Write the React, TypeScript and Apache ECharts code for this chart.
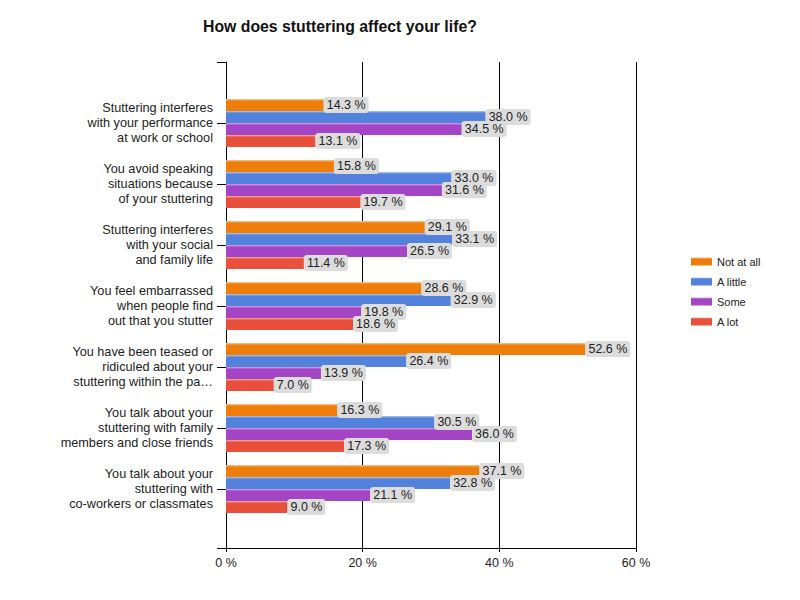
import React, { useEffect, useRef } from "react";
import * as echarts from "echarts";

const categories = [
  "Stuttering interferes\nwith your performance\nat work or school",
  "You avoid speaking\nsituations because\nof your stuttering",
  "Stuttering interferes\nwith your social\nand family life",
  "You feel embarrassed\nwhen people find\nout that you stutter",
  "You have been teased or\nridiculed about your\nstuttering within the pa…",
  "You talk about your\nstuttering with family\nmembers and close friends",
  "You talk about your\nstuttering with\nco-workers or classmates",
];
const seriesNames = ["Not at all", "A little", "Some", "A lot"];
const notAtAll = [14.3, 15.8, 29.1, 28.6, 52.6, 16.3, 37.1];
const aLittle = [38.0, 33.0, 33.1, 32.9, 26.4, 30.5, 32.8];
const some = [34.5, 31.6, 26.5, 19.8, 13.9, 36.0, 21.1];
const aLot = [13.1, 19.7, 11.4, 18.6, 7.0, 17.3, 9.0];
const seriesData = [notAtAll, aLittle, some, aLot];
const colors = ["#EE7D0A", "#5282DC", "#A445C6", "#E8503B"];
const lightColors = ["#F8C89A", "#B4CAF0", "#D8A9E6", "#F4B0A5"];
const xMin = 0;
const xMax = 60;
const xInterval = 20;

const FONT = "'Liberation Sans', Arial, sans-serif";

export default function App() {
  const ref = useRef<HTMLDivElement>(null);
  useEffect(() => {
    if (!ref.current) return;
    const chart = echarts.init(ref.current, undefined, { renderer: "svg" });
    const option: any = {
      animation: false,
      color: colors,
      textStyle: { fontFamily: FONT },
      title: {
        text: "How does stuttering affect your life?",
        left: 195,
        top: 10,
        padding: 0,
        textStyle: { fontSize: 15.8, fontWeight: "bold", color: "#111", fontFamily: FONT },
      },
      legend: {
        orient: "vertical",
        left: 683,
        top: 248,
        padding: 0,
        itemWidth: 21,
        itemHeight: 8,
        itemGap: 9,
        icon: "rect",
        data: seriesNames,
        textStyle: { fontSize: 11, color: "#222", fontFamily: FONT },
      },
      grid: [
        { left: 218, right: 172, top: 54, bottom: 60 },
        { left: 218, right: 172, top: 84.5, bottom: 88.5 },
      ],
      xAxis: [
        {
          type: "value",
          gridIndex: 0,
          min: xMin,
          max: xMax,
          interval: xInterval,
          axisLine: { show: true, lineStyle: { color: "#000", width: 1 } },
          axisTick: { show: true, length: 4, lineStyle: { color: "#000" } },
          splitLine: { show: true, lineStyle: { color: "#000", width: 1 } },
          axisLabel: {
            formatter: "{value} %",
            fontSize: 12.5,
            color: "#222",
            margin: 8,
            fontFamily: FONT,
          },
        },
        {
          type: "value",
          gridIndex: 1,
          min: xMin,
          max: xMax,
          show: false,
        },
      ],
      yAxis: [
        {
          type: "value",
          gridIndex: 0,
          min: 0,
          max: 1,
          interval: 1,
          axisLine: { show: true, lineStyle: { color: "#000", width: 1 } },
          axisTick: { show: true, length: 9, lineStyle: { color: "#000" } },
          axisLabel: { show: false },
          splitLine: { show: false },
        },
        {
          type: "category",
          gridIndex: 1,
          inverse: true,
          data: categories,
          axisLine: { show: false },
          axisTick: { show: true, length: 9, alignWithLabel: true, lineStyle: { color: "#000" } },
          axisLabel: {
            fontSize: 12.7,
            color: "#222",
            margin: 13,
            lineHeight: 15,
            fontFamily: FONT,
          },
          splitLine: { show: false },
        },
      ],
      series: seriesNames.map((name, i) => ({
        name,
        type: "bar",
        xAxisIndex: 1,
        yAxisIndex: 1,
        data: seriesData[i],
        barWidth: 12,
        barGap: "0%",
        itemStyle: {
          color: new echarts.graphic.LinearGradient(0, 0, 0, 1, [
            { offset: 0, color: lightColors[i] },
            { offset: 0.18, color: colors[i] },
            { offset: 1, color: colors[i] },
          ]),
        },
        label: {
          show: true,
          position: "right",
          distance: 0,
          formatter: (p: any) => p.value.toFixed(1) + " %",
          fontSize: 12.5,
          color: "#222",
          fontFamily: FONT,
          backgroundColor: "#DCDCDC",
          borderRadius: 3,
          padding: [2, 3, 1, 3],
        },
      })),
    };
    chart.setOption(option);
    return () => chart.dispose();
  }, []);
  return <div ref={ref} style={{ width: 800, height: 600 }} />;
}
